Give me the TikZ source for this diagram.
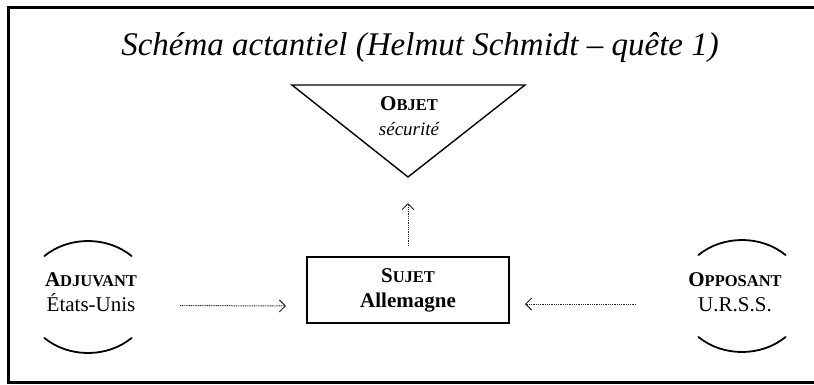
\documentclass[tikz,border=0pt]{standalone}
\usepackage{fontspec}
\setmainfont{Liberation Serif}
\usetikzlibrary{arrows.meta}
\newcommand\fakesc[2]{{\fontsize{21}{25}\selectfont #1}{\fontsize{16.5}{25}\selectfont #2}}
\begin{document}
\begin{tikzpicture}[x=1pt,y=-1pt,
  lbl/.style={align=center, inner sep=0pt, font=\fontsize{21}{25}\selectfont},
  arr/.style={dash pattern=on 1pt off 0.8pt, line width=1pt, draw=black!85, -{Straight Barb[length=6pt,width=12pt,line width=1pt]}},
  arcline/.style={line width=1.8pt, line cap=round},
  frame/.style={line width=3pt}
]
\useasboundingbox (0,0) rectangle (814,384);
\draw[frame] (814,7.5) -- (8.5,7.5) -- (8.5,382.5) -- (814,382.5);

\node[anchor=base, inner sep=0pt, font=\fontsize{33}{40}\selectfont\itshape] (title) at (420,55) {Schéma actantiel (Helmut Schmidt – quête 1)};

% objet triangle
\coordinate (tl) at (292,85);
\coordinate (tr) at (525,85);
\coordinate (apex) at (408,177);
\draw[line width=1.4pt] (tl) -- (tr) -- (apex) -- cycle;
\node[lbl] (objet) at (409,116) {{\bfseries\fakesc{O}{BJET}}\\{\itshape\fontsize{19}{25}\selectfont sécurité}};

% sujet
\node[draw, line width=2pt, minimum width=202pt, minimum height=66pt, lbl] (sujet) at (408,290) {{\bfseries\fakesc{S}{UJET}}\\{\bfseries Allemagne}};

% adjuvant
\node[lbl] (adj) at (91,292) {{\bfseries\fakesc{A}{DJUVANT}}\\États-Unis};
\coordinate (adjc) at (88,297);
\draw[arcline] ([shift={(47:64pt and 56pt)}]adjc) arc[start angle=47, end angle=133, x radius=64pt, y radius=56pt];
\draw[arcline] ([shift={(227:64pt and 56pt)}]adjc) arc[start angle=227, end angle=313, x radius=64pt, y radius=56pt];

% opposant
\node[lbl] (opp) at (735,292) {{\bfseries\fakesc{O}{PPOSANT}}\\U.R.S.S.};
\coordinate (oppc) at (742,296);
\draw[arcline] ([shift={(47:64pt and 56pt)}]oppc) arc[start angle=47, end angle=133, x radius=64pt, y radius=56pt];
\draw[arcline] ([shift={(227:64pt and 56pt)}]oppc) arc[start angle=227, end angle=313, x radius=64pt, y radius=56pt];

% connectors
\draw[arr] ([xshift=43pt,yshift=-13.5pt]adj.east) -- ([xshift=-20pt,yshift=-16pt]sujet.west);
\draw[arr] ([xshift=-52pt,yshift=-12pt]opp.west) -- ([xshift=15pt,yshift=-14pt]sujet.east);
\draw[arr] ([yshift=10pt]sujet.north) -- ([yshift=-26pt]apex);
\end{tikzpicture}
\end{document}
